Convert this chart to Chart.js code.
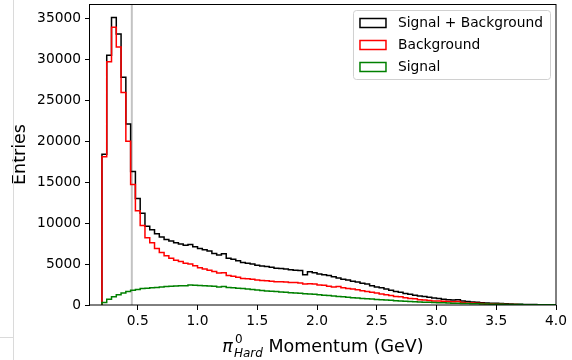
<!DOCTYPE html>
<html>
<head>
<meta charset="utf-8">
<script src="https://cdn.jsdelivr.net/npm/chart.js@4.4.0/dist/chart.umd.min.js"></script>
<style>
html,body{margin:0;padding:0;background:#fff;}
#wrap{position:relative;width:572px;height:360px;}
</style>
</head>
<body>
<div id="wrap"><canvas id="c" width="572" height="360"></canvas></div>
<script>
// ---- data (histogram bins of width 0.04 GeV starting at 0.20 GeV) ----
const binStart = 0.20;
const binWidth = 0.04;

const signalPlusBackground = [
  18400,30500,35100,33100,27800,22100,16300,13000,11200,9600,
  9200,8700,8300,8000,7800,7600,7450,7300,7400,7100,
  6900,6750,6600,6300,6100,6250,5700,5600,5400,5200,
  5100,5000,4850,4750,4700,4600,4500,4450,4400,4300,
  4250,4200,3700,4050,3950,3800,3700,3600,3450,3300,
  3150,3050,2900,2800,2650,2550,2350,2200,2100,1950,
  1800,1650,1550,1400,1300,1200,1100,1050,950,850,
  800,700,650,600,650,500,420,380,330,280,
  250,220,200,170,150,120,100,90,75,65,
  55,45,40,35,30
];
const background = [
  18100,29700,33900,31500,25950,20000,14700,11500,9700,8200,
  7600,6900,6400,6000,5700,5450,5300,5100,5000,4800,
  4550,4400,4250,4100,3900,3950,3600,3500,3400,3250,
  3200,3150,3050,3000,2950,2900,2850,2850,2800,2750,
  2750,2700,2550,2600,2550,2450,2400,2300,2200,2250,
  2100,2000,1950,1850,1750,1650,1550,1450,1350,1250,
  1150,1050,1000,900,800,750,650,600,550,500,
  480,450,420,400,430,300,250,230,200,170,
  130,110,100,90,70,60,50,40,35,30,
  25,20,15,12,10
];
const signal = [
  300,700,1000,1250,1450,1650,1800,1900,2000,2050,
  2100,2150,2200,2250,2300,2320,2340,2360,2450,2400,
  2380,2350,2320,2280,2200,2250,2150,2100,2050,2000,
  1950,1880,1830,1780,1720,1680,1640,1600,1550,1500,
  1450,1420,1380,1350,1300,1250,1200,1150,1100,1050,
  1000,950,900,850,800,760,720,680,640,600,
  570,530,500,470,440,410,380,350,330,300,
  280,260,240,220,200,180,170,150,140,120,
  110,100,90,80,70,60,55,50,45,40,
  35,30,28,25,22
];

const seriesLabels = ['Signal + Background', 'Background', 'Signal'];
const seriesColors = ['#000000', '#ff0000', '#008000'];
const xTickValues = [0.5, 1.0, 1.5, 2.0, 2.5, 3.0, 3.5, 4.0];
const yTickValues = [0, 5000, 10000, 15000, 20000, 25000, 30000, 35000];
const xMin = 0.1, xMax = 4.0;
const yMin = 0, yMax = 36750;
const cutValue = 0.45;

// ---- build step outlines from bins ----
function stepPoints(vals) {
  const pts = [{x: binStart, y: 0}];
  vals.forEach((v, i) => pts.push({x: binStart + i * binWidth, y: v}));
  const end = binStart + vals.length * binWidth;
  pts.push({x: end, y: vals[vals.length - 1]});
  pts.push({x: end, y: 0});
  return pts;
}

const FONT = "'DejaVu Sans', 'Liberation Sans', sans-serif";
const TICK_SIZE = 13.8;
const TITLE_SIZE = 17.5;

const decorPlugin = {
  id: 'decor',
  beforeDatasetsDraw(chart) {
    const ctx = chart.ctx, a = chart.chartArea;
    const px = chart.scales.x.getPixelForValue(cutValue);
    ctx.save();
    ctx.strokeStyle = 'rgba(170,170,170,0.7)';
    ctx.lineWidth = 2;
    ctx.beginPath();
    ctx.moveTo(px, a.top);
    ctx.lineTo(px, a.bottom);
    ctx.stroke();
    ctx.restore();
  },
  afterDraw(chart) {
    const ctx = chart.ctx, a = chart.chartArea;
    ctx.save();
    // frame
    ctx.strokeStyle = '#000';
    ctx.lineWidth = 1;
    ctx.strokeRect(Math.round(a.left) - 0.5, Math.round(a.top) + 0.5,
                   Math.round(a.right - a.left) + 0.5, Math.round(a.bottom - a.top) - 0.5);

    // legend
    ctx.font = TICK_SIZE + 'px ' + FONT;
    const boxRight = a.right - 6, boxTop = a.top + 6;
    const textW = Math.max(...seriesLabels.map(s => ctx.measureText(s).width));
    const boxW = 6 + 26 + 12 + textW + 8;
    const rowH = 22;
    const boxH = 69;
    const boxLeft = boxRight - boxW;
    ctx.beginPath();
    if (ctx.roundRect) ctx.roundRect(boxLeft + 0.5, boxTop + 0.5, boxW, boxH, 3);
    else ctx.rect(boxLeft + 0.5, boxTop + 0.5, boxW, boxH);
    ctx.fillStyle = 'rgba(255,255,255,0.8)';
    ctx.fill();
    ctx.strokeStyle = '#d0d0d0';
    ctx.lineWidth = 1;
    ctx.stroke();
    chart.data.datasets.forEach((ds, i) => {
      const cy = boxTop + 13 + i * rowH;
      ctx.strokeStyle = ds.borderColor;
      ctx.lineWidth = 1.5;
      ctx.strokeRect(boxLeft + 7, cy - 4.5, 26, 9);
      ctx.fillStyle = '#000';
      ctx.textAlign = 'left';
      ctx.textBaseline = 'middle';
      ctx.fillText(ds.label, boxLeft + 45, cy);
    });

    // y title
    ctx.save();
    ctx.translate(20, (a.top + a.bottom) / 2);
    ctx.rotate(-Math.PI / 2);
    ctx.font = TITLE_SIZE + 'px ' + FONT;
    ctx.fillStyle = '#000';
    ctx.textAlign = 'center';
    ctx.textBaseline = 'middle';
    ctx.fillText('Entries', 0, 0);
    ctx.restore();

    // x title with math: pi^0_{Hard} Momentum (GeV)
    const base = 352;
    const mainF = TITLE_SIZE + 'px ' + FONT, italF = 'italic ' + TITLE_SIZE + 'px ' + FONT;
    const smallF = '12px ' + FONT, smallI = 'italic 12px ' + FONT;
    ctx.font = italF; const wPi = ctx.measureText('π').width;
    ctx.font = smallF; const w0 = ctx.measureText('0').width;
    ctx.font = smallI; const wH = ctx.measureText('Hard').width;
    ctx.font = mainF; const rest = ' Momentum (GeV)'; const wR = ctx.measureText(rest).width;
    const total = wPi + 1 + Math.max(w0, wH) + wR;
    let x = (a.left + a.right) / 2 - total / 2;
    ctx.fillStyle = '#000';
    ctx.textAlign = 'left';
    ctx.textBaseline = 'alphabetic';
    ctx.font = italF; ctx.fillText('π', x, base); x += wPi + 1;
    ctx.font = smallF; ctx.fillText('0', x + 1, base - 9);
    ctx.font = smallI; ctx.fillText('Hard', x, base + 5);
    x += Math.max(w0, wH);
    ctx.font = mainF; ctx.fillText(rest, x, base);

    // notebook frame remnants
    ctx.strokeStyle = '#dadada';
    ctx.lineWidth = 1;
    ctx.beginPath();
    ctx.moveTo(13.5, 0); ctx.lineTo(13.5, 360);
    ctx.moveTo(0, 337.5); ctx.lineTo(13, 337.5);
    ctx.stroke();
    ctx.restore();
  }
};

const datasetsRaw = [signalPlusBackground, background, signal];
const chart = new Chart(document.getElementById('c'), {
  type: 'line',
  data: {
    datasets: datasetsRaw.map((vals, i) => ({
      label: seriesLabels[i],
      data: stepPoints(vals),
      borderColor: seriesColors[i],
      backgroundColor: seriesColors[i],
      borderWidth: 1.5,
      pointRadius: 0,
      fill: false,
      stepped: 'before',
      tension: 0,
      borderJoinStyle: 'miter',
      order: 3 - i
    }))
  },
  options: {
    responsive: false,
    animation: false,
    devicePixelRatio: 1,
    layout: {padding: {left: 0, right: 16, top: 4, bottom: 0}},
    plugins: {legend: {display: false}, tooltip: {enabled: false}},
    scales: {
      x: {
        type: 'linear',
        min: xMin, max: xMax,
        afterBuildTicks: s => { s.ticks = xTickValues.map(v => ({value: v})); },
        afterFit: s => { s.height = 55; s.paddingLeft = 0; s.paddingRight = 0; },
        ticks: {
          callback: v => Number(v).toFixed(1),
          font: {family: FONT, size: TICK_SIZE},
          color: '#000', maxRotation: 0, autoSkip: false, padding: 3
        },
        grid: {drawOnChartArea: false, drawTicks: true, tickLength: 5, tickColor: '#000', tickWidth: 1},
        border: {display: false}
      },
      y: {
        type: 'linear',
        min: yMin, max: yMax,
        afterBuildTicks: s => { s.ticks = yTickValues.map(v => ({value: v})); },
        afterFit: s => { s.width = 90; s.paddingTop = 0; s.paddingBottom = 0; },
        ticks: {
          callback: v => String(v),
          font: {family: FONT, size: TICK_SIZE},
          color: '#000', padding: 4
        },
        grid: {drawOnChartArea: false, drawTicks: true, tickLength: 5, tickColor: '#000', tickWidth: 1},
        border: {display: false}
      }
    }
  },
  plugins: [decorPlugin]
});
</script>
</body>
</html>
